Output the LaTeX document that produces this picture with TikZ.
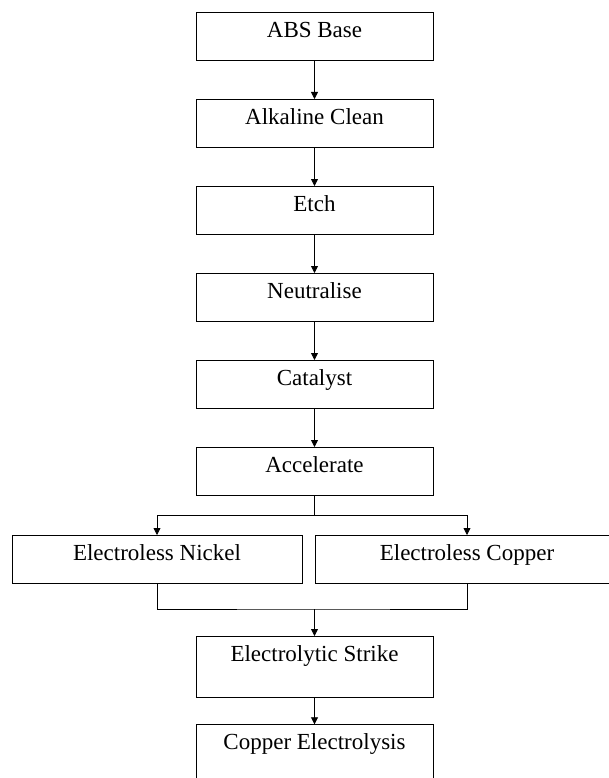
\documentclass[tikz,border=0pt]{standalone}
\usepackage{fontspec}
\setmainfont{Liberation Serif}
\usetikzlibrary{arrows.meta,positioning}

\begin{document}
\begin{tikzpicture}[
    x=1pt, y=1pt,
    stepbox/.style={draw, line width=0.8pt, minimum width=237pt, inner xsep=0pt, inner ysep=0pt,
                font=\fontsize{23}{27}\selectfont, text height=25pt, text depth=23pt},
    tallbox/.style={stepbox, text depth=36pt},
    sidebox/.style={stepbox, minimum width=290pt},
    flow/.style={draw, line width=0.8pt, -{Triangle[width=7pt,length=7pt]}},
    link/.style={draw, line width=0.8pt}
  ]
    \useasboundingbox (0,0) rectangle (608,-778);
    \node[stepbox, anchor=north]     (abs) at (314.5,-12) {ABS Base};
    \node[stepbox, below=38.2pt of abs]   (clean)           {Alkaline Clean};
    \node[stepbox, below=38.2pt of clean] (etch)            {Etch};
    \node[stepbox, below=38.2pt of etch]  (neutral)         {Neutralise};
    \node[stepbox, below=38.2pt of neutral] (catalyst)      {Catalyst};
    \node[stepbox, below=38.2pt of catalyst] (accel)        {Accelerate};
    \node[sidebox, anchor=north]     (nickel) at (157,-535) {Electroless Nickel};
    \node[sidebox, minimum width=304pt, anchor=north] (copper) at (467,-535) {Electroless Copper};
    \node[tallbox, anchor=north]     (strike) at (314.5,-636) {Electrolytic Strike};
    \node[tallbox, below=26.5pt of strike] (cuelec)       {Copper Electrolysis};

    \foreach \a/\b in {abs/clean, clean/etch, etch/neutral, neutral/catalyst, catalyst/accel, strike/cuelec}
      \draw[flow] (\a) -- (\b);

    % split to the two electroless baths
    \coordinate (split) at (314.5,-515);
    \draw[link] (accel.south) -- (split);
    \draw[flow] (split) -| (nickel.north);
    \draw[flow] (split) -| (copper.north);

    % join back into the strike
    \coordinate (join) at (314.5,-609);
    \draw[link] (nickel.south) |- (join) -| (copper.south);
    \draw[flow] (join) -- (strike);
  \end{tikzpicture}
\end{document}
